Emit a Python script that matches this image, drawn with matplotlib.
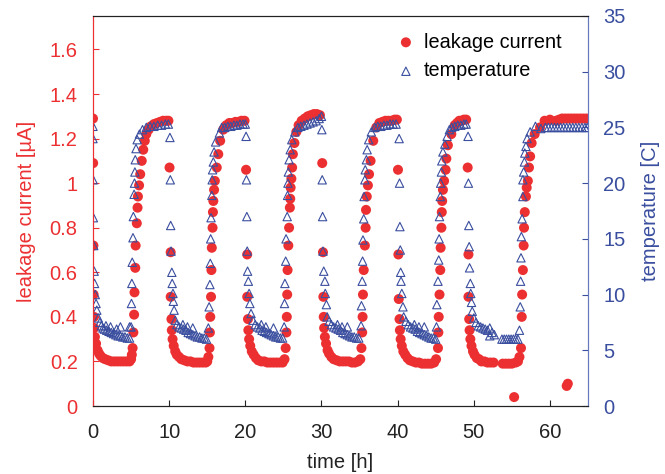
import matplotlib
matplotlib.use("Agg")
from matplotlib import pyplot as plt

plt.rcParams['font.family'] = ['Liberation Sans', 'DejaVu Sans']

# (time [h], leakage current [uA])
current_points = [
    # cycle 1
    (0.0, 1.29), (0.02, 1.09), (0.05, 0.72), (0.08, 0.50), (0.12, 0.40), (0.15, 0.35),
    (0.25, 0.31), (0.4, 0.28), (0.6, 0.25), (0.8, 0.235), (1.0, 0.225), (1.3, 0.215),
    (1.6, 0.21), (2.0, 0.205), (2.4, 0.20), (2.8, 0.20), (3.2, 0.20), (3.6, 0.20),
    (4.0, 0.20), (4.4, 0.20), (4.8, 0.20), (5.0, 0.21), (5.1, 0.23), (5.2, 0.26),
    (5.3, 0.33), (5.4, 0.41), (5.45, 0.51), (5.55, 0.62), (5.6, 0.72), (5.75, 0.82),
    (5.85, 0.89), (5.9, 0.94), (6.05, 0.99), (6.2, 1.04), (6.4, 1.10), (6.6, 1.15),
    (6.8, 1.19), (7.0, 1.22), (7.3, 1.24), (7.6, 1.255), (8.0, 1.265), (8.4, 1.27),
    (8.8, 1.275), (9.2, 1.28), (9.6, 1.28), (9.9, 1.28),
    # cycle 2
    (10.05, 1.07), (10.2, 0.69), (10.2, 0.49), (10.3, 0.39), (10.35, 0.34), (10.45, 0.30),
    (10.6, 0.27), (10.8, 0.245), (11.0, 0.23), (11.3, 0.22), (11.6, 0.21), (12.0, 0.205),
    (12.4, 0.20), (12.8, 0.20), (13.2, 0.195), (13.6, 0.195), (14.0, 0.195), (14.4, 0.195),
    (14.8, 0.195), (15.0, 0.20), (15.15, 0.22), (15.3, 0.26), (15.35, 0.33), (15.4, 0.40),
    (15.5, 0.49), (15.55, 0.61), (15.6, 0.71), (15.7, 0.80), (15.75, 0.87), (15.8, 0.92),
    (15.9, 0.97), (16.0, 1.01), (16.25, 1.07), (16.45, 1.13), (16.7, 1.19), (17.1, 1.24),
    (17.5, 1.26), (17.9, 1.27), (18.3, 1.27), (18.7, 1.275), (19.1, 1.275), (19.5, 1.28),
    (19.9, 1.28),
    # cycle 3
    (20.1, 1.06), (20.25, 0.68), (20.25, 0.49), (20.35, 0.39), (20.4, 0.34), (20.5, 0.30),
    (20.65, 0.27), (20.85, 0.245), (21.1, 0.23), (21.4, 0.215), (21.7, 0.205), (22.1, 0.20),
    (22.5, 0.20), (22.9, 0.195), (23.3, 0.195), (23.7, 0.195), (24.1, 0.195), (24.5, 0.195),
    (24.9, 0.195), (25.15, 0.21), (25.3, 0.26), (25.4, 0.33), (25.45, 0.40), (25.5, 0.50),
    (25.55, 0.61), (25.65, 0.72), (25.75, 0.80), (25.85, 0.89), (25.9, 0.93), (25.95, 0.98),
    (26.05, 1.02), (26.15, 1.07), (26.25, 1.13), (26.45, 1.18), (26.7, 1.23), (27.0, 1.26),
    (27.4, 1.28), (27.8, 1.29), (28.2, 1.30), (28.6, 1.305), (29.0, 1.31), (29.4, 1.31),
    (29.8, 1.305),
    # cycle 4
    (30.1, 1.09), (30.2, 0.69), (30.25, 0.49), (30.3, 0.40), (30.35, 0.35), (30.45, 0.31),
    (30.6, 0.28), (30.8, 0.25), (31.0, 0.235), (31.3, 0.22), (31.6, 0.21), (32.0, 0.205),
    (32.4, 0.20), (32.8, 0.20), (33.2, 0.20), (33.6, 0.20), (34.0, 0.195), (34.4, 0.195),
    (34.8, 0.20), (35.1, 0.21), (35.25, 0.26), (35.35, 0.33), (35.4, 0.40), (35.45, 0.50),
    (35.55, 0.61), (35.7, 0.72), (35.8, 0.80), (35.85, 0.88), (35.95, 0.94), (36.1, 0.99),
    (36.25, 1.04), (36.45, 1.10), (36.8, 1.19), (37.2, 1.25), (37.6, 1.27), (38.0, 1.275),
    (38.4, 1.28), (38.8, 1.28), (39.2, 1.28), (39.6, 1.285), (39.9, 1.285),
    # cycle 5
    (40.05, 1.06), (40.1, 0.68), (40.15, 0.48), (40.25, 0.39), (40.3, 0.34), (40.4, 0.30),
    (40.55, 0.27), (40.75, 0.245), (41.0, 0.23), (41.3, 0.215), (41.6, 0.205), (42.0, 0.20),
    (42.4, 0.195), (42.8, 0.195), (43.2, 0.19), (43.6, 0.19), (44.0, 0.19), (44.4, 0.19),
    (44.8, 0.195), (45.05, 0.21), (45.3, 0.26), (45.35, 0.33), (45.4, 0.40), (45.5, 0.50),
    (45.6, 0.61), (45.65, 0.71), (45.75, 0.80), (45.8, 0.87), (45.85, 0.92), (45.95, 0.97),
    (46.1, 1.01), (46.3, 1.06), (46.4, 1.11), (46.6, 1.17), (47.05, 1.22), (47.5, 1.26),
    (47.8, 1.27), (48.1, 1.28), (48.4, 1.28), (48.7, 1.285), (49.0, 1.285),
    # cycle 6
    (49.2, 1.07), (49.3, 0.68), (49.3, 0.49), (49.4, 0.39), (49.45, 0.34), (49.55, 0.30),
    (49.7, 0.27), (49.9, 0.245), (50.1, 0.23), (50.4, 0.215), (50.7, 0.21), (51.0, 0.20),
    (51.4, 0.20), (51.8, 0.195), (52.2, 0.195), (52.6, 0.195), (53.8, 0.19), (54.2, 0.19),
    (54.6, 0.19), (55.0, 0.19), (55.3, 0.04), (55.5, 0.195), (55.8, 0.20), (56.0, 0.22),
    (56.2, 0.26), (56.3, 0.40), (56.35, 0.50), (56.45, 0.61), (56.55, 0.72), (56.6, 0.80),
    (56.7, 0.87), (56.85, 0.94), (56.95, 0.98), (57.1, 1.01), (57.25, 1.07), (57.4, 1.12),
    (57.6, 1.18), (58.0, 1.22), (58.7, 1.25), (59.3, 1.28), (60.0, 1.285), (60.8, 1.28),
    (61.2, 1.285), (61.6, 1.29), (62.0, 1.29), (62.2, 0.09), (62.35, 0.10), (62.4, 1.29),
    (62.8, 1.29), (63.2, 1.29), (63.6, 1.29), (64.0, 1.29), (64.4, 1.29), (64.8, 1.29),
]

# (time [h], temperature [C])
temperature_points = [
    # cycle 1
    (0.0, 25.1), (0.0, 24.0), (0.02, 20.3), (0.05, 16.9), (0.1, 14.4), (0.15, 12.1),
    (0.2, 11.0), (0.3, 10.0), (0.4, 9.2), (0.5, 8.6), (0.7, 7.9), (0.9, 7.5), (1.1, 7.2),
    (1.3, 7.0), (1.5, 6.9), (1.7, 7.2), (1.8, 6.8), (2.1, 6.7), (2.3, 7.1), (2.4, 6.6),
    (2.7, 6.5), (3.0, 6.4), (3.1, 6.9), (3.3, 6.3), (3.6, 7.1), (3.6, 6.3), (3.9, 6.2),
    (4.2, 6.2), (4.5, 6.1), (4.8, 7.1), (4.8, 6.1), (5.0, 7.1), (5.05, 9.2), (5.1, 11.0),
    (5.15, 12.9), (5.25, 15.1), (5.3, 17.0), (5.4, 19.0), (5.45, 20.0), (5.5, 21.0),
    (5.55, 22.1), (5.65, 23.1), (5.8, 23.9), (6.1, 24.4), (6.5, 24.8), (7.0, 25.0),
    (7.5, 25.1), (8.0, 25.1), (8.5, 25.2), (9.0, 25.2), (9.5, 25.3), (9.9, 25.3),
    # cycle 2
    (10.1, 24.1), (10.15, 20.3), (10.2, 16.2), (10.25, 13.9), (10.35, 12.0), (10.4, 11.0),
    (10.5, 10.1), (10.55, 9.4), (10.65, 8.6), (10.8, 7.7), (11.0, 7.3), (11.3, 7.1),
    (11.6, 7.0), (11.8, 7.3), (11.9, 6.9), (12.2, 6.8), (12.4, 7.1), (12.5, 6.6),
    (12.8, 6.5), (13.1, 7.0), (13.1, 6.4), (13.4, 6.3), (13.7, 6.2), (14.0, 6.2),
    (14.3, 6.1), (14.6, 6.1), (14.9, 6.0), (15.15, 7.0), (15.25, 8.9), (15.35, 10.9),
    (15.4, 12.8), (15.45, 15.0), (15.5, 16.9), (15.6, 18.9), (15.65, 20.3), (15.7, 21.2),
    (15.8, 21.9), (15.9, 22.8), (16.1, 23.7), (16.6, 24.5), (16.9, 25.0), (17.3, 25.0),
    (17.7, 25.1), (18.1, 25.1), (18.5, 25.2), (18.9, 25.2), (19.3, 25.3), (19.7, 25.3),
    (20.0, 25.3),
    # cycle 3
    (20.1, 24.2), (20.15, 20.3), (20.2, 17.0), (20.25, 13.9), (20.3, 12.1), (20.4, 11.2),
    (20.5, 10.1), (20.6, 9.2), (20.75, 8.3), (21.0, 7.7), (21.3, 7.3), (21.6, 7.1),
    (21.9, 7.0), (22.1, 7.3), (22.2, 6.8), (22.5, 6.7), (22.7, 7.1), (22.8, 6.6),
    (23.1, 6.5), (23.4, 6.4), (23.7, 7.0), (23.7, 6.3), (24.0, 6.2), (24.3, 6.2),
    (24.6, 6.1), (24.9, 6.1), (25.1, 7.1), (25.15, 9.2), (25.2, 11.0), (25.3, 13.0),
    (25.35, 15.0), (25.5, 17.0), (25.55, 18.9), (25.6, 20.0), (25.65, 21.0), (25.75, 22.1),
    (25.9, 23.0), (26.1, 23.9), (26.5, 24.6), (26.9, 25.0), (27.3, 25.1), (27.7, 25.2),
    (28.1, 25.3), (28.5, 25.4), (28.9, 25.5), (29.3, 25.6), (29.7, 25.8), (30.0, 26.0),
    # cycle 4
    (30.05, 24.8), (30.1, 20.3), (30.15, 17.0), (30.2, 13.9), (30.3, 12.1), (30.45, 11.2),
    (30.5, 10.1), (30.65, 9.1), (30.75, 8.0), (31.0, 7.6), (31.3, 7.3), (31.6, 7.1),
    (31.9, 7.0), (32.1, 7.3), (32.2, 6.9), (32.5, 6.8), (32.7, 7.1), (32.8, 6.6),
    (33.1, 6.5), (33.4, 7.1), (33.4, 6.4), (33.7, 6.3), (34.0, 6.2), (34.3, 6.2),
    (34.6, 6.1), (34.9, 6.1), (35.2, 7.2), (35.25, 9.0), (35.35, 11.2), (35.4, 13.0),
    (35.45, 14.9), (35.55, 16.8), (35.6, 18.8), (35.7, 20.3), (35.75, 21.2), (35.9, 22.1),
    (36.0, 23.0), (36.2, 23.9), (36.55, 24.6), (37.0, 25.0), (37.4, 25.1), (37.8, 25.1),
    (38.2, 25.2), (38.6, 25.2), (39.0, 25.3), (39.4, 25.3), (39.8, 25.3),
    # cycle 5
    (40.2, 24.0), (40.25, 20.0), (40.3, 16.1), (40.35, 14.0), (40.4, 12.0), (40.45, 11.2),
    (40.55, 10.1), (40.7, 8.9), (40.8, 8.0), (41.1, 7.6), (41.4, 7.3), (41.7, 7.1),
    (42.0, 7.0), (42.2, 7.3), (42.3, 6.9), (42.6, 6.7), (42.8, 7.1), (42.9, 6.6),
    (43.2, 6.5), (43.5, 7.1), (43.5, 6.4), (43.8, 6.3), (44.1, 6.2), (44.4, 6.1),
    (44.7, 6.1), (45.0, 6.0), (45.1, 7.1), (45.15, 9.1), (45.3, 11.2), (45.4, 13.1),
    (45.45, 15.0), (45.5, 17.0), (45.6, 18.8), (45.65, 20.0), (45.75, 21.0), (45.8, 22.0),
    (45.95, 22.8), (46.2, 23.5), (46.5, 24.2), (46.8, 24.8), (47.1, 25.0), (47.5, 25.1),
    (47.9, 25.2), (48.3, 25.2), (48.7, 25.3), (49.0, 25.3),
    # cycle 6
    (49.25, 24.2), (49.3, 20.0), (49.35, 16.2), (49.4, 14.3), (49.45, 12.4), (49.55, 11.0),
    (49.6, 10.1), (49.7, 9.3), (49.8, 8.5), (50.0, 7.9), (50.3, 7.5), (50.6, 7.2),
    (50.9, 7.1), (51.2, 7.0), (51.5, 6.9), (51.8, 6.8), (52.1, 7.0), (52.1, 6.3),
    (52.4, 6.6), (52.7, 6.4), (53.7, 6.0), (54.0, 6.0), (54.3, 6.0), (54.6, 6.0),
    (54.9, 6.0), (55.2, 6.0), (55.5, 6.0), (55.8, 6.0), (56.0, 6.8), (56.1, 8.9),
    (56.15, 11.2), (56.2, 13.3), (56.25, 15.2), (56.35, 16.8), (56.45, 18.8), (56.45, 20.3),
    (56.55, 21.0), (56.65, 21.9), (56.7, 22.7), (56.85, 23.3), (57.0, 24.0), (57.4, 24.6),
    (58.1, 25.1), (58.8, 24.9), (59.4, 25.0), (59.8, 25.0), (60.2, 25.0), (60.6, 25.0),
    (61.0, 25.0), (61.4, 25.0), (61.8, 25.0), (62.2, 25.0), (62.6, 25.0), (63.0, 25.0),
    (63.4, 25.0), (63.8, 25.0), (64.2, 25.0), (64.6, 25.0), (64.9, 25.0),
]

t_cur = [p[0] for p in current_points]
cur = [p[1] for p in current_points]
t_temp = [p[0] for p in temperature_points]
temp = [p[1] for p in temperature_points]

red = '#ec3032'
blue = '#3a4e9f'
fs = 14.5

fig = plt.figure(figsize=(6.65, 4.74), dpi=100)
ax = fig.add_axes([93/665, 68/474, 495/665, 390/474])
ax2 = ax.twinx()

h1 = ax.scatter(t_cur, cur, s=52, color=red, edgecolors='none', label='leakage current')
h2 = ax2.scatter(t_temp, temp, s=36, marker='^', facecolors='none', edgecolors=blue,
                 linewidths=0.8, label='temperature')

ax.set_xlim(0, 65)
ax.set_ylim(0, 1.75)
ax2.set_ylim(0, 35)
ax.set_xticks([0, 10, 20, 30, 40, 50, 60])
ax.set_yticks([0, 0.2, 0.4, 0.6, 0.8, 1, 1.2, 1.4, 1.6])
ax.set_yticklabels(['0', '0.2', '0.4', '0.6', '0.8', '1', '1.2', '1.4', '1.6'])
ax2.set_yticks([0, 5, 10, 15, 20, 25, 30, 35])

ax.tick_params(axis='x', direction='in', length=4, pad=12, labelsize=fs, colors='#222222')
ax.tick_params(axis='y', direction='in', length=4, pad=11, labelsize=fs, colors=red)
ax2.tick_params(axis='y', direction='in', length=4, pad=11, labelsize=fs, colors=blue)

for a in (ax, ax2):
    a.spines['top'].set_color('#222222')
    a.spines['bottom'].set_color('#222222')
    a.spines['left'].set_color(red)
    a.spines['right'].set_color('#6878bd')

ax.set_xlabel('time [h]', fontsize=fs, color='#222222', labelpad=8)
ax.set_ylabel('leakage current [µA]', fontsize=fs, color=red, labelpad=10)
ax2.set_ylabel('temperature [C]', fontsize=fs, color=blue, labelpad=11)

ax2.legend([h1, h2], ['leakage current', 'temperature'], loc='upper left',
           bbox_to_anchor=(0.596, 0.978), frameon=False, fontsize=14.3,
           handlelength=1.0, handletextpad=0.4, borderaxespad=0.0, labelspacing=0.5)

fig.savefig('out.png', dpi=100)
